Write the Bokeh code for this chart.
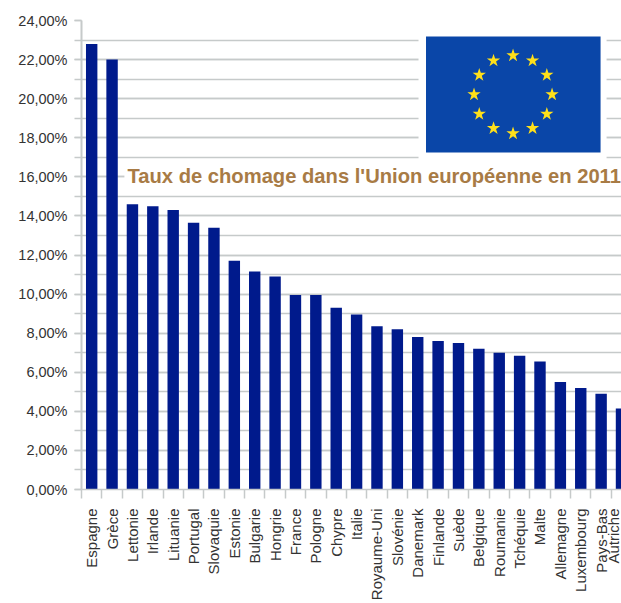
import math
from bokeh.plotting import figure
from bokeh.models import Range1d, FixedTicker
from bokeh.core.properties import value
from bokeh.embed import file_html
from bokeh.resources import INLINE

countries = ["Espagne","Grèce","Lettonie","Irlande","Lituanie","Portugal","Slovaquie","Estonie","Bulgarie","Hongrie","France","Pologne","Chypre","Italie","Royaume-Uni","Slovénie","Danemark","Finlande","Suède","Belgique","Roumanie","Tchéquie","Malte","Allemagne","Luxembourg","Pays-Bas","Autriche"]
rates = [22.8,22.0,14.6,14.5,14.3,13.65,13.4,11.7,11.15,10.9,9.95,9.95,9.3,8.95,8.35,8.2,7.8,7.6,7.5,7.2,7.0,6.85,6.55,5.5,5.2,4.9,4.15]
y_ticks = list(range(0, 26, 2))
title_text = "Taux de chomage dans l'Union européenne en 2011"

FONT = "Liberation Sans"
GRID = "#c6caca"
p = figure(width=621, height=603, output_backend="svg", toolbar_location=None,
           x_range=Range1d(-0.5, 26.0), y_range=Range1d(0, 24),
           min_border_left=81, min_border_right=0, min_border_top=20, min_border_bottom=114)
p.outline_line_color = None
p.xgrid.visible = False
p.ygrid.grid_line_color = GRID
p.ygrid.grid_line_width = 1.5
p.ygrid.minor_grid_line_color = GRID
p.ygrid.minor_grid_line_width = 1.5

yax = p.yaxis[0]
yax.ticker = FixedTicker(ticks=y_ticks, minor_ticks=list(range(0, 25)))
yax.major_label_overrides = {v: f"{v},00%" for v in y_ticks}
yax.major_label_text_font = FONT
yax.major_label_text_font_size = "14.5px"
yax.major_label_text_color = "#333333"
yax.major_label_standoff = 7
yax.axis_line_color = GRID
yax.axis_line_width = 2
yax.major_tick_line_color = GRID
yax.major_tick_line_width = 1.5
yax.major_tick_out = 7
yax.major_tick_in = 0
yax.minor_tick_line_color = GRID
yax.minor_tick_line_width = 1.5
yax.minor_tick_out = 7
yax.minor_tick_in = 0

xax = p.xaxis[0]
xax.ticker = FixedTicker(ticks=list(range(len(countries))),
                         minor_ticks=[i - 0.5 for i in range(len(countries) + 1)])
xax.major_label_overrides = {i: c for i, c in enumerate(countries)}
xax.major_label_orientation = math.pi / 2
xax.major_label_text_font = FONT
xax.major_label_text_font_size = "15px"
xax.major_label_text_color = "#333333"
xax.major_label_standoff = 10
xax.axis_line_color = GRID
xax.axis_line_width = 1.5
xax.major_tick_line_color = None
xax.minor_tick_line_color = GRID
xax.minor_tick_line_width = 1.5
xax.minor_tick_out = 9
xax.minor_tick_in = 0

# decorative overlay positioned via pixel -> data helpers
X = lambda px: (px - 91.3) / 20.37
Y = lambda py: (489 - py) / 19.54

p.quad(left=[X(418)], right=[X(606)], top=[Y(26)], bottom=[Y(160)], fill_color="white", line_color=None)
p.quad(left=[X(124)], right=[X(621)], top=[Y(165)], bottom=[Y(186)], fill_color="white", line_color=None)
p.vbar(x=list(range(len(countries))), top=rates, width=0.56, fill_color="#001A8C", line_color=None)

p.quad(left=[X(425.5)], right=[X(600)], top=[Y(36)], bottom=[Y(152)], fill_color="#0A46A8", line_color=None)
sx = [X(512.5 + 39 * math.sin(math.radians(a))) for a in range(0, 360, 30)]
sy = [Y(94 - 39 * math.cos(math.radians(a))) for a in range(0, 360, 30)]
p.scatter(x=sx, y=sy, marker="star", size=14, fill_color="#FFE01A", line_color=None)

p.text(x=[X(127)], y=[Y(176)], text=[title_text], text_font=value(FONT), text_font_style="bold",
       text_font_size="20.2px", text_color="#A87B45", text_baseline="alphabetic", text_align="left")

open("out.html", "w").write(file_html(p, INLINE))
